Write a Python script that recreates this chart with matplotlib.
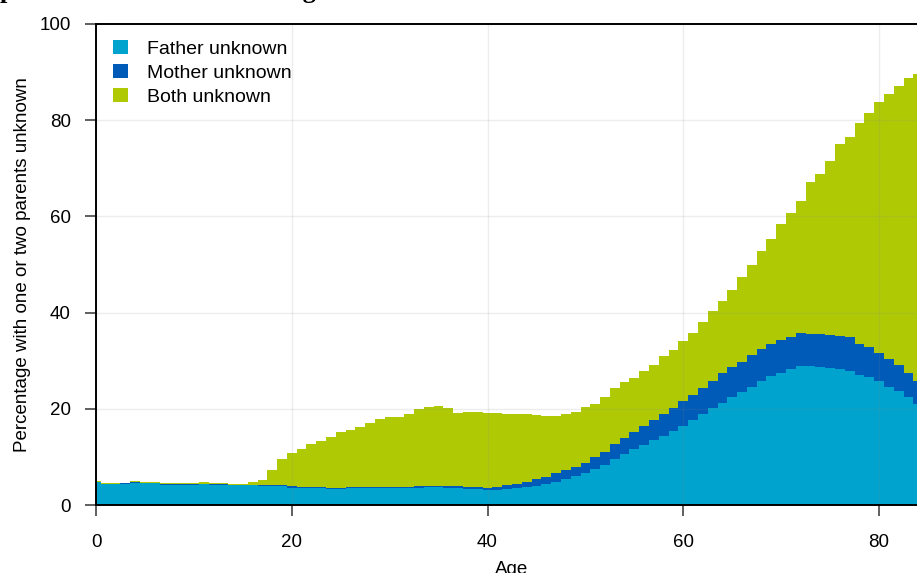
import numpy as np
import matplotlib
matplotlib.use("Agg")
import matplotlib.pyplot as plt
from matplotlib.patches import Patch

ages = np.arange(0, 85)

# percentage points per age, stacked: father only, mother only, both
father = [4.75, 4.3, 4.3, 4.35, 4.6, 4.5, 4.5, 4.2, 4.25, 4.2,
          4.25, 4.3, 4.25, 4.2, 4.1, 4.1, 4.1, 4.0, 4.0, 3.9,
          3.6, 3.55, 3.55, 3.5, 3.35, 3.35, 3.45, 3.45, 3.45, 3.5,
          3.5, 3.55, 3.55, 3.6, 3.7, 3.7, 3.6, 3.5, 3.3, 3.25,
          3.15, 3.2, 3.3, 3.45, 3.65, 3.95, 4.35, 4.85, 5.35, 6.0,
          6.6, 7.4, 8.3, 9.5, 10.6, 11.55, 12.45, 13.5, 14.35, 15.4,
          16.5, 17.7, 18.85, 20.1, 21.3, 22.5, 23.4, 24.6, 25.8, 26.8,
          27.5, 28.2, 28.9, 28.8, 28.6, 28.4, 28.2, 27.9, 27.0, 26.7,
          25.8, 24.6, 23.6, 22.4, 21.1]
mother = [0.1, 0.15, 0.15, 0.15, 0.15, 0.15, 0.15, 0.15, 0.15, 0.15,
          0.15, 0.15, 0.15, 0.15, 0.15, 0.15, 0.15, 0.2, 0.2, 0.2,
          0.3, 0.2, 0.2, 0.2, 0.2, 0.2, 0.2, 0.2, 0.2, 0.2,
          0.25, 0.25, 0.25, 0.25, 0.3, 0.3, 0.35, 0.35, 0.4, 0.4,
          0.45, 0.6, 0.85, 1.0, 1.2, 1.4, 1.5, 1.75, 1.95, 1.95,
          2.2, 2.5, 2.65, 3.2, 3.4, 3.7, 3.95, 4.15, 4.5, 4.7,
          5.1, 5.2, 5.55, 5.7, 6.1, 6.1, 6.4, 6.6, 6.6, 6.7,
          6.8, 6.8, 6.8, 6.7, 7.0, 6.9, 6.9, 7.0, 6.5, 6.2,
          5.9, 5.7, 5.5, 5.1, 4.7]
both = [0.1, 0.15, 0.15, 0.15, 0.25, 0.2, 0.15, 0.25, 0.25, 0.25,
        0.25, 0.25, 0.25, 0.25, 0.15, 0.15, 0.45, 1.0, 3.1, 5.4,
        6.9, 7.85, 8.85, 9.6, 10.65, 11.55, 11.85, 12.55, 13.35, 14.2,
        14.45, 14.4, 15.2, 16.15, 16.3, 16.6, 16.15, 15.25, 15.6, 15.65,
        15.5, 15.3, 14.75, 14.4, 14.15, 13.35, 12.65, 11.8, 11.55, 11.45,
        11.5, 11.1, 11.45, 11.6, 11.5, 11.25, 11.5, 11.45, 12.15, 12.1,
        12.5, 12.9, 13.7, 14.6, 15.1, 16.1, 17.5, 18.6, 20.5, 21.9,
        24.1, 25.7, 27.4, 31.6, 33.3, 36.3, 40.0, 41.7, 46.0, 48.6,
        52.1, 55.1, 58.1, 61.2, 63.9]

labels = ["Father unknown", "Mother unknown", "Both unknown"]
colors = ["#00a3cd", "#005ab7", "#afca05"]

plt.rcParams["font.family"] = ["Liberation Sans", "DejaVu Sans"]
plt.rcParams["font.size"] = 13.5

fig = plt.figure(figsize=(9.17, 5.73), dpi=100)
ax = fig.add_axes([96 / 917, 1 - 505 / 573, 832 / 917, 481 / 573])

edges = np.append(ages - 0.5, ages[-1] + 0.5)
base = np.zeros(len(ages))
for vals, col in zip([father, mother, both], colors):
    top = base + np.array(vals)
    ax.stairs(top, edges, baseline=base, fill=True, color=col, lw=0, zorder=1)
    base = top

ax.set_xlim(0, 85)
ax.set_ylim(0, 100)
ax.set_xticks([0, 20, 40, 60, 80])
ax.set_yticks([0, 20, 40, 60, 80, 100])
ax.grid(True, color="#888888", alpha=0.15, lw=1, zorder=2)
ax.set_axisbelow(False)

for s in ["left", "bottom", "top", "right"]:
    ax.spines[s].set_linewidth(1.4)
    ax.spines[s].set_zorder(3)
ax.tick_params(length=8, width=1.2, color="#444444", pad=10)
ax.tick_params(axis="x", pad=13)

ax.set_xlabel("Age", labelpad=7)
ax.set_ylabel("Percentage with one or two parents unknown", labelpad=6)

handles = [Patch(facecolor=c, edgecolor="none") for c in colors]
ax.legend(handles, labels, loc="upper left", bbox_to_anchor=(17 / 832, (505 - 40) / 481),
          frameon=False, fontsize=14, handlelength=0.75, handleheight=0.75,
          handletextpad=0.98, labelspacing=0.31, borderaxespad=0, borderpad=0)

fig.text(0.0, 1.0 + 2 / 573, "parents unknown at each age", family="Liberation Serif",
         weight="bold", fontsize=19, va="baseline", ha="left")

fig.savefig("out.png", dpi=100)
